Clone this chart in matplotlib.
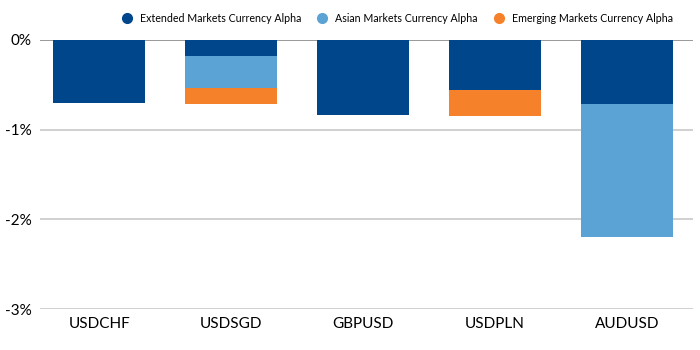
import matplotlib.pyplot as plt
from matplotlib.lines import Line2D
import numpy as np

plt.rcParams['font.family'] = ['Lato', 'DejaVu Sans']

pairs = ["USDCHF", "USDSGD", "GBPUSD", "USDPLN", "AUDUSD"]
extended = [-0.70, -0.18, -0.84, -0.56, -0.72]
asian = [0.0, -0.36, 0.0, 0.0, -1.48]
emerging = [0.0, -0.18, 0.0, -0.29, 0.0]
series_names = ["Extended Markets Currency Alpha", "Asian Markets Currency Alpha",
                "Emerging Markets Currency Alpha"]
colors = ["#00468b", "#5ba3d4", "#f5822a"]
yticks = [0, -1, -2, -3]

fig = plt.figure(figsize=(7, 3.5), dpi=100)
ax = fig.add_axes([0.057, 0.117, 0.933, 0.769])

x = np.arange(len(pairs))
bottom = np.zeros(len(pairs))
for vals, col in zip([extended, asian, emerging], colors):
    vals = np.array(vals)
    ax.bar(x, vals, 0.7, bottom=bottom, color=col, zorder=3)
    bottom = bottom + vals

for t in yticks:
    ax.axhline(t, color="#888888" if t == 0 else "#c8c8c8", lw=1.2, zorder=2)

ax.set_ylim(-3, 0)
ax.set_xlim(-0.45, 4.5)
ax.set_yticks(yticks)
ax.set_yticklabels([f"{t}%" for t in yticks], fontsize=11)
ax.set_xticks(x)
ax.set_xticklabels(pairs, fontsize=11)
ax.tick_params(length=0, axis="y", pad=6)
ax.tick_params(length=0, axis="x", pad=6)
for s in ax.spines.values():
    s.set_visible(False)

handles = [Line2D([], [], marker="o", ls="", color=c, markersize=7) for c in colors]
fig.legend(handles, series_names, loc="upper right", bbox_to_anchor=(0.975, 0.99),
           ncol=3, frameon=False, fontsize=7.7, handletextpad=0.2, columnspacing=1.0)

fig.savefig("out.png", dpi=100)
